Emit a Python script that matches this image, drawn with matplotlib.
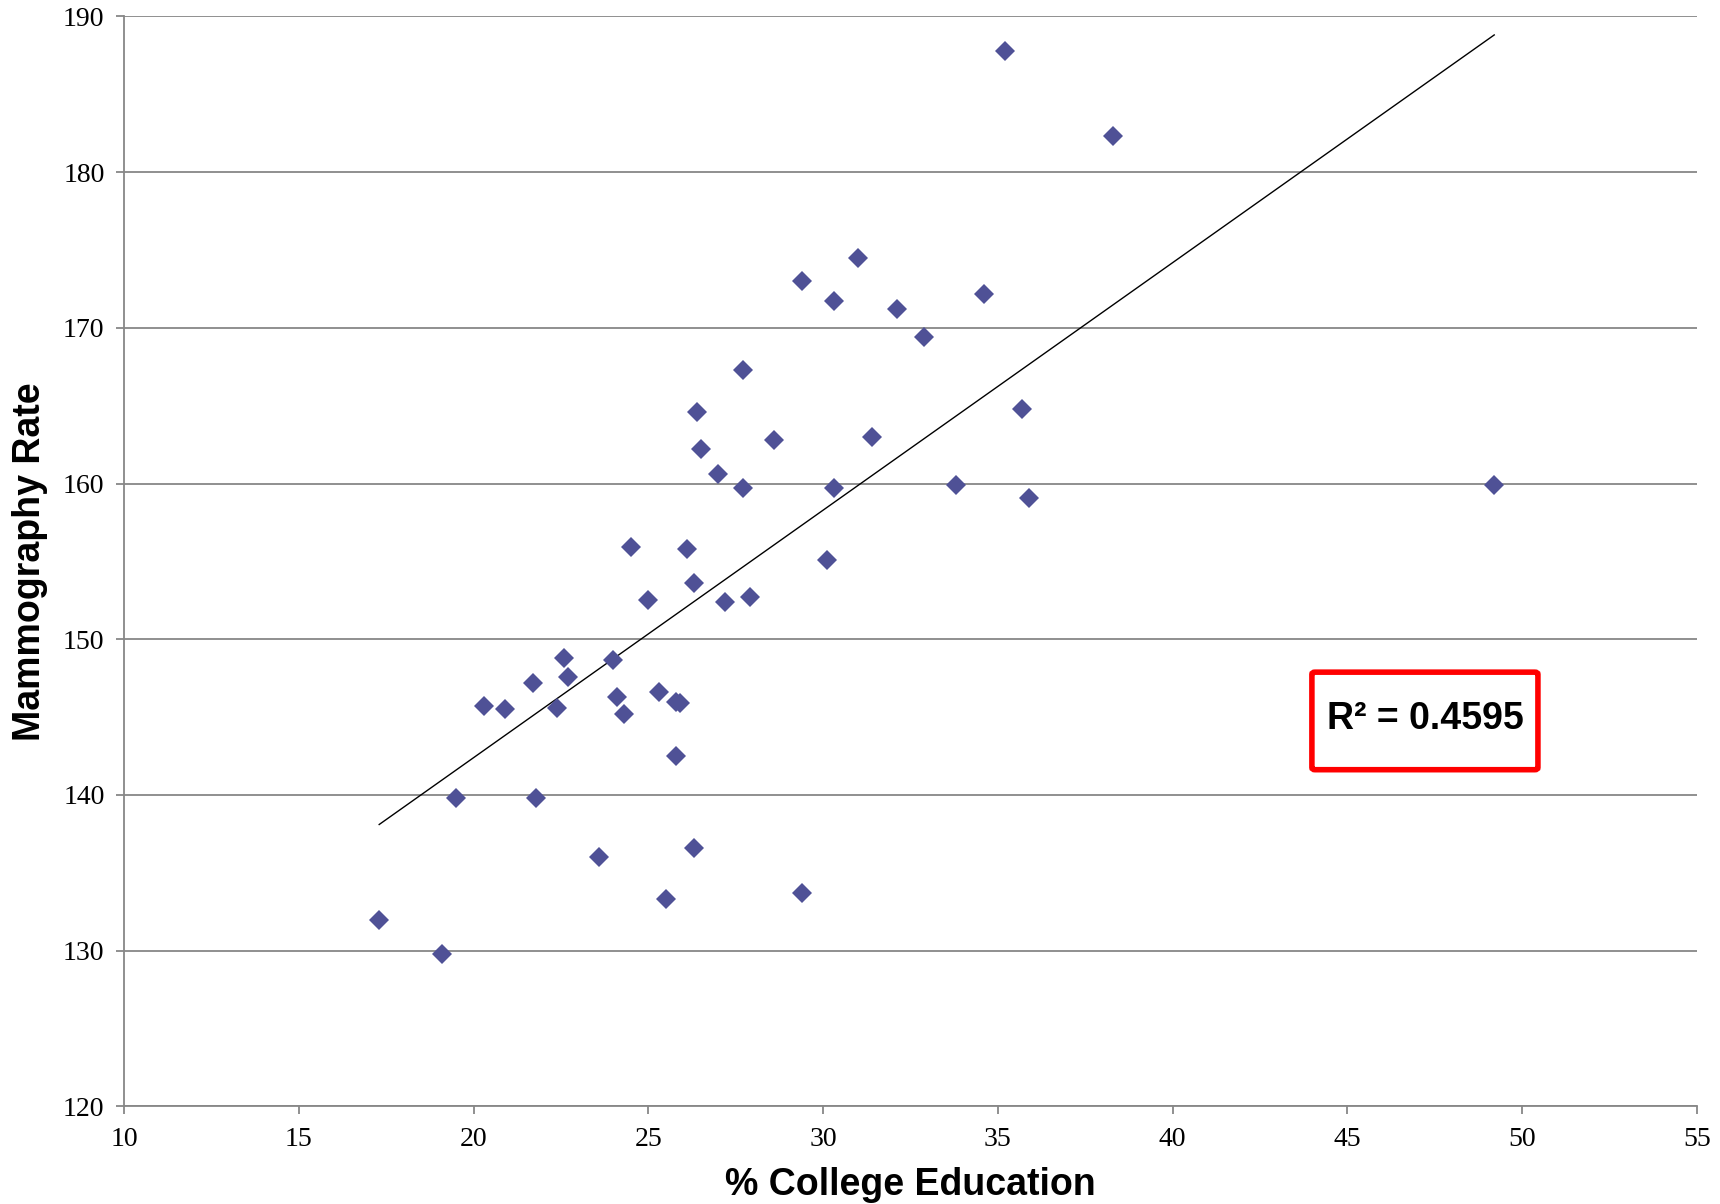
import numpy as np
import matplotlib.pyplot as plt
from matplotlib.patches import FancyBboxPatch

# % college education vs mammography rate
college = [17.3, 19.1, 19.5, 20.3, 20.9, 21.7, 21.8, 22.4, 22.6, 22.7,
           23.6, 24.0, 24.1, 24.3, 24.5, 25.0, 25.3, 25.5, 25.8, 25.8,
           25.9, 26.1, 26.3, 26.3, 26.4, 26.5, 27.0, 27.2, 27.7, 27.7,
           27.9, 28.6, 29.4, 29.4, 30.1, 30.3, 30.3, 31.0, 31.4, 32.1,
           32.9, 33.8, 34.6, 35.2, 35.7, 35.9, 38.3, 49.2]
mammo = [132.0, 129.8, 139.8, 145.7, 145.5, 147.2, 139.8, 145.6, 148.8, 147.6,
         136.0, 148.7, 146.3, 145.2, 155.9, 152.5, 146.6, 133.3, 142.5, 146.0,
         145.9, 155.8, 153.6, 136.6, 164.6, 162.2, 160.6, 152.4, 167.3, 159.7,
         152.7, 162.8, 173.0, 133.7, 155.1, 171.7, 159.7, 174.5, 163.0, 171.2,
         169.4, 159.9, 172.2, 187.8, 164.8, 159.1, 182.3, 159.9]

x_ticks = [10, 15, 20, 25, 30, 35, 40, 45, 50, 55]
y_ticks = [120, 130, 140, 150, 160, 170, 180, 190]
r2_label = "R² = 0.4595"

marker_color = "#4F5196"
grid_color = "#878787"

fig = plt.figure(figsize=(17.2, 12.04), dpi=100)
ax = fig.add_axes([0.0721, 0.0811, 0.9145, 0.9052])

ax.plot(college, mammo, linestyle="none", marker="D", markersize=10.5,
        color=marker_color, markeredgewidth=0, zorder=3)

# linear trendline over the data range
slope, intercept = np.polyfit(college, mammo, 1)
xs = np.array([min(college), max(college)])
ax.plot(xs, slope * xs + intercept, color="black", linewidth=1.0, zorder=2)

ax.set_xlim(10, 55)
ax.set_ylim(120, 190)
ax.set_xticks(x_ticks)
ax.set_yticks(y_ticks)
ax.yaxis.grid(True, color=grid_color, linewidth=1.3)
ax.set_axisbelow(True)

for side in ["top", "right"]:
    ax.spines[side].set_visible(False)
for side in ["left", "bottom"]:
    ax.spines[side].set_color(grid_color)
    ax.spines[side].set_linewidth(1.3)

ax.tick_params(axis="both", colors=grid_color, length=6, width=1.3)
for lbl in ax.get_xticklabels() + ax.get_yticklabels():
    lbl.set_family("Liberation Serif")
    lbl.set_fontsize(20)
    lbl.set_color("black")
ax.tick_params(axis="x", pad=9)
ax.tick_params(axis="y", pad=8)

ax.set_xlabel("% College Education", family="Liberation Sans", fontsize=27,
              fontweight="bold", va="center")
ax.xaxis.set_label_coords(0.5, -0.072)
ax.set_ylabel("Mammography Rate", family="Liberation Sans", fontsize=27,
              fontweight="bold", va="center")
ax.yaxis.set_label_coords(-0.06, 0.5)

# red box with R^2
box = FancyBboxPatch((0.7552, 0.3089), 0.1437, 0.0895, transform=ax.transAxes,
                     boxstyle="round,pad=0,rounding_size=0.002",
                     facecolor="white", edgecolor="#FF0000", linewidth=4,
                     zorder=4)
ax.add_patch(box)
ax.text(0.8274, 0.3555, r2_label, transform=ax.transAxes, ha="center",
        va="center", family="Liberation Sans", fontsize=27,
        fontweight="bold", zorder=5)

fig.savefig("out.png", dpi=100)
